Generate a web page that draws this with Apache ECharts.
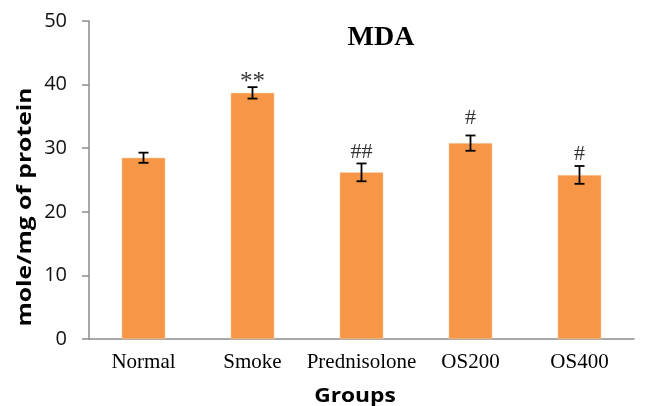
<!DOCTYPE html>
<html><head><meta charset="utf-8">
<script src="https://cdn.jsdelivr.net/npm/echarts@6/dist/echarts.min.js"></script>
<style>html,body{margin:0;padding:0;background:#fff}#c{width:645px;height:406px}</style>
</head><body><div id="c"></div>
<script>
var categories = ['Normal', 'Smoke', 'Prednisolone', 'OS200', 'OS400'];
var means = [28.5, 38.7, 26.2, 30.8, 25.8];
var errors = [0.8, 0.9, 1.4, 1.2, 1.4];
var marks = ['', '**', '##', '#', '#'];
var markY = [null, 40.4, 29.4, 34.7, 29.1];
var yTicks = [0, 10, 20, 30, 40, 50];

var chart = echarts.init(document.getElementById('c'));
var errData = means.map(function (m, i) { return [i, m - errors[i], m + errors[i]]; });
var markData = markY.map(function (v, i) { return v == null ? null : [i, v]; });

chart.setOption({
  animation: false,
  title: {
    text: 'MDA', left: 376, top: 33, textAlign: 'center', textVerticalAlign: 'middle',
    textStyle: { fontFamily: 'Liberation Serif', fontWeight: 'bold', fontSize: 28, color: '#000' }
  },
  graphic: [
    { type: 'text', x: 25, y: 207, rotation: Math.PI / 2, scaleX: 1.3, scaleY: 1.05,
      style: { text: 'mole/mg of protein', fontFamily: 'Open Sans', fontWeight: 'bold', fontSize: 19,
        fill: '#000', align: 'center', verticalAlign: 'middle' } },
    { type: 'text', x: 355, y: 396, scaleX: 1.2, scaleY: 1.05,
      style: { text: 'Groups', fontFamily: 'Open Sans', fontWeight: 'bold', fontSize: 19,
        fill: '#000', align: 'center', verticalAlign: 'middle' } }
  ],
  grid: { left: 89, right: 11, top: 21, bottom: 67, containLabel: false, outerBoundsMode: 'none' },
  xAxis: {
    type: 'category', data: categories,
    axisLine: { lineStyle: { color: '#8c8c8c', width: 1.5 } },
    axisTick: { show: false },
    axisLabel: { interval: 0, fontFamily: 'Liberation Serif', fontSize: 21, color: '#000', margin: 13 }
  },
  yAxis: {
    type: 'value', min: 0, max: 50, interval: 10,
    axisLine: { show: true, lineStyle: { color: '#8c8c8c', width: 1.5 } },
    axisTick: { show: true, length: 7, lineStyle: { color: '#8c8c8c', width: 1.5 } },
    splitLine: { show: false },
    axisLabel: { fontFamily: 'Open Sans', fontSize: 20, color: '#111', margin: 22,
      formatter: function (v) { return yTicks.indexOf(v) >= 0 ? String(v) : ''; } }
  },
  series: [
    {
      type: 'bar', data: means, barWidth: '40%',
      itemStyle: { color: '#F79646', borderColor: '#fbd3b3', borderWidth: 0.5 }
    },
    {
      type: 'custom', data: errData, z: 5,
      renderItem: function (params, api) {
        var x = api.value(0);
        var lo = api.coord([x, api.value(1)]);
        var hi = api.coord([x, api.value(2)]);
        var w = 5;
        var st = { stroke: '#000', lineWidth: 1.8 };
        return { type: 'group', children: [
          { type: 'line', shape: { x1: hi[0], y1: hi[1], x2: lo[0], y2: lo[1] }, style: st },
          { type: 'line', shape: { x1: hi[0] - w, y1: hi[1], x2: hi[0] + w, y2: hi[1] }, style: st },
          { type: 'line', shape: { x1: lo[0] - w, y1: lo[1], x2: lo[0] + w, y2: lo[1] }, style: st }
        ] };
      }
    },
    {
      type: 'scatter', data: markData, symbolSize: 0, z: 6,
      label: {
        show: true, position: 'inside',
        formatter: function (p) { var m = marks[p.dataIndex]; return m === '**' ? '{a|**}' : '{b|' + m + '}'; },
        rich: {
          a: { fontFamily: 'Liberation Serif', fontSize: 25, color: '#000' },
          b: { fontFamily: 'Liberation Serif', fontSize: 22, color: '#000' }
        }
      }
    }
  ]
});
</script></body></html>
